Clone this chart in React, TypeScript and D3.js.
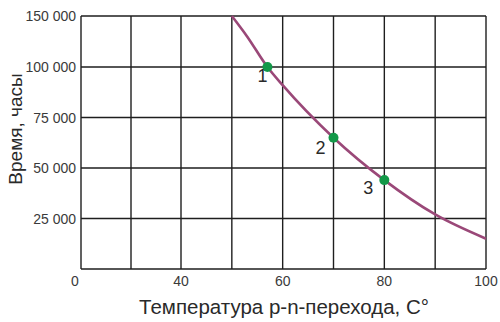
import React from "react";
import * as d3 from "d3";

const curveTemps = [50, 53, 57, 60, 70, 80, 90, 100];
const curveHours = [150000, 130000, 100000, 91000, 65000, 44000, 27000, 15000];

const pointTemps = [57, 70, 80];
const pointHours = [100000, 65000, 44000];
const pointLabels = ["1", "2", "3"];

const xGrid = [0, 20, 40, 50, 60, 70, 80, 90, 100];
const xTicks = [0, 40, 60, 80, 100];
const yGrid = [0, 25000, 50000, 75000, 100000, 150000];
const yTicks = [25000, 50000, 75000, 100000, 150000];

const xTitle = "Температура p-n-перехода, C°";
const yTitle = "Время, часы";

const W = 500;
const H = 322;
const L = 81, R = 486, T = 16, B = 269;

export default function App() {
  const x = d3.scaleLinear().domain([0, 40, 100]).range([L, 181, R]);
  const y = d3.scaleLinear().domain([0, 100000, 150000]).range([B, 67, T]);
  const fmt = (v: number) => d3.format(",")(v).replace(/,/g, " ");
  const line = d3
    .line<number>()
    .x((_, i) => x(curveTemps[i]))
    .y((d) => y(d))
    .curve(d3.curveMonotoneX);
  const font = "Liberation Sans, Arial, sans-serif";
  const labelOffsets = [
    [-5, 15],
    [-13, 16],
    [-16, 14],
  ];
  return (
    <svg
      width={W}
      height={H}
      style={{ position: "absolute", left: 0, top: 0, background: "#fff" }}
      fontFamily={font}
    >
      {xGrid.map((v) => (
        <line key={"xg" + v} x1={x(v)} x2={x(v)} y1={T} y2={B} stroke="#1e1e1e" strokeWidth={1.4} />
      ))}
      {yGrid.map((v) => (
        <line key={"yg" + v} x1={L} x2={R} y1={y(v)} y2={y(v)} stroke="#1e1e1e" strokeWidth={1.4} />
      ))}
      {xTicks.map((v) => (
        <text key={"xt" + v} x={v === 0 ? x(v) - 6 : x(v)} y={286} textAnchor="middle" fontSize={14} fill="#3a3a3a">
          {v}
        </text>
      ))}
      {yTicks.map((v) => (
        <text key={"yt" + v} x={76} y={y(v) + 5} textAnchor="end" fontSize={14} fill="#3a3a3a">
          {fmt(v)}
        </text>
      ))}
      <path d={line(curveHours) || ""} fill="none" stroke="#9a4878" strokeWidth={2.6} />
      {pointTemps.map((t, i) => (
        <g key={"p" + i}>
          <circle cx={x(t)} cy={y(pointHours[i])} r={5} fill="#129848" />
          <text
            x={x(t) + labelOffsets[i][0]}
            y={y(pointHours[i]) + labelOffsets[i][1]}
            textAnchor="middle"
            fontSize={18}
            fill="#2a2a2a"
          >
            {pointLabels[i]}
          </text>
        </g>
      ))}
      <text x={284} y={314} textAnchor="middle" fontSize={20.5} fill="#2a2a2a">
        {xTitle}
      </text>
      <text
        transform={`translate(22, 129) rotate(-90)`}
        textAnchor="middle"
        fontSize={19}
        fill="#2a2a2a"
      >
        {yTitle}
      </text>
    </svg>
  );
}
